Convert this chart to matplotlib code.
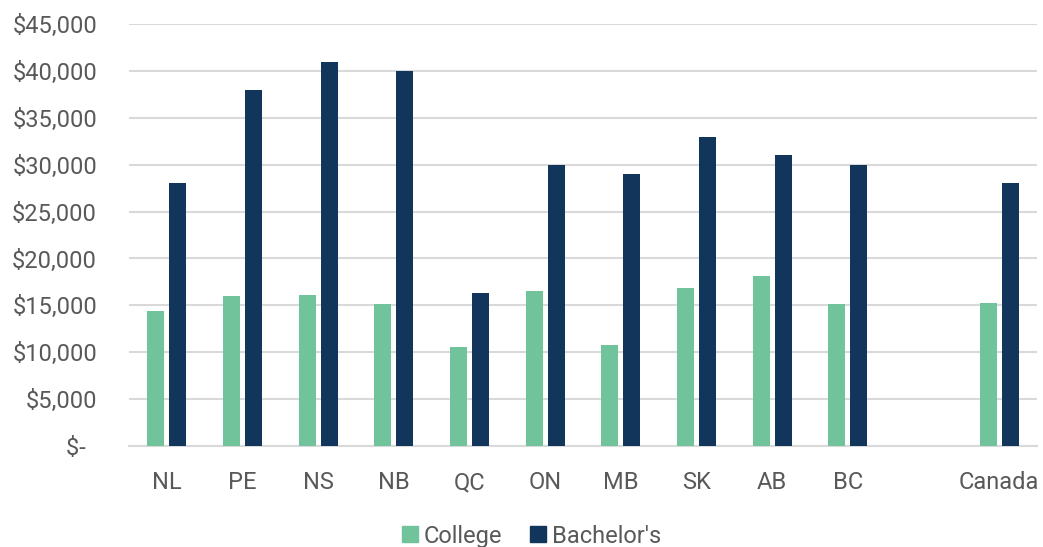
import numpy as np
import matplotlib.pyplot as plt
from matplotlib.patches import Patch

plt.rcParams['font.family'] = ['Roboto', 'DejaVu Sans']

# Data
provinces = ['NL', 'PE', 'NS', 'NB', 'QC', 'ON', 'MB', 'SK', 'AB', 'BC', 'Canada']
college = [14400, 16000, 16100, 15100, 10600, 16500, 10800, 16800, 18100, 15100, 15300]
bachelors = [28000, 38000, 41000, 40000, 16300, 30000, 29000, 33000, 31000, 30000, 28000]
yticks = [0, 5000, 10000, 15000, 20000, 25000, 30000, 35000, 40000, 45000]

green = '#71C39B'
navy = '#12355B'
text_col = '#595959'
grid_col = '#D9D9D9'

# Canada sits one empty slot after BC
x = np.array(list(range(10)) + [11])

fig = plt.figure(figsize=(10.43, 5.47), dpi=100)
ax = fig.add_axes([0.1237, 0.1846, 0.8705, 0.7715])

w = 0.225
off = 0.146
ax.bar(x - off, college, width=w, color=green, zorder=3)
ax.bar(x + off, bachelors, width=w, color=navy, zorder=3)

ax.set_xlim(-0.5, 11.5)
ax.set_ylim(0, 45000)
ax.set_yticks(yticks)
ax.set_yticklabels(['\\$-  ' if v == 0 else '\\${:,}'.format(v) for v in yticks])
ax.set_xticks(x)
ax.set_xticklabels(provinces)

ax.grid(axis='y', color=grid_col, linewidth=1.5, zorder=0)
for s in ['top', 'right', 'left']:
    ax.spines[s].set_visible(False)
ax.spines['bottom'].set_color(grid_col)
ax.spines['bottom'].set_linewidth(1.5)
ax.tick_params(axis='y', length=0, pad=23, labelsize=17, labelcolor=text_col)
ax.tick_params(axis='x', length=0, pad=18, labelsize=17, labelcolor=text_col)

handles = [Patch(color=green, label='College'), Patch(color=navy, label="Bachelor's")]
leg = fig.legend(handles=handles, loc='center', bbox_to_anchor=(0.5096, 0.02), ncol=2,
                 frameon=False, fontsize=17, handlelength=0.65, handleheight=0.65,
                 handletextpad=0.25, columnspacing=1.2)
for t in leg.get_texts():
    t.set_color(text_col)

fig.savefig('out.png', dpi=100)
